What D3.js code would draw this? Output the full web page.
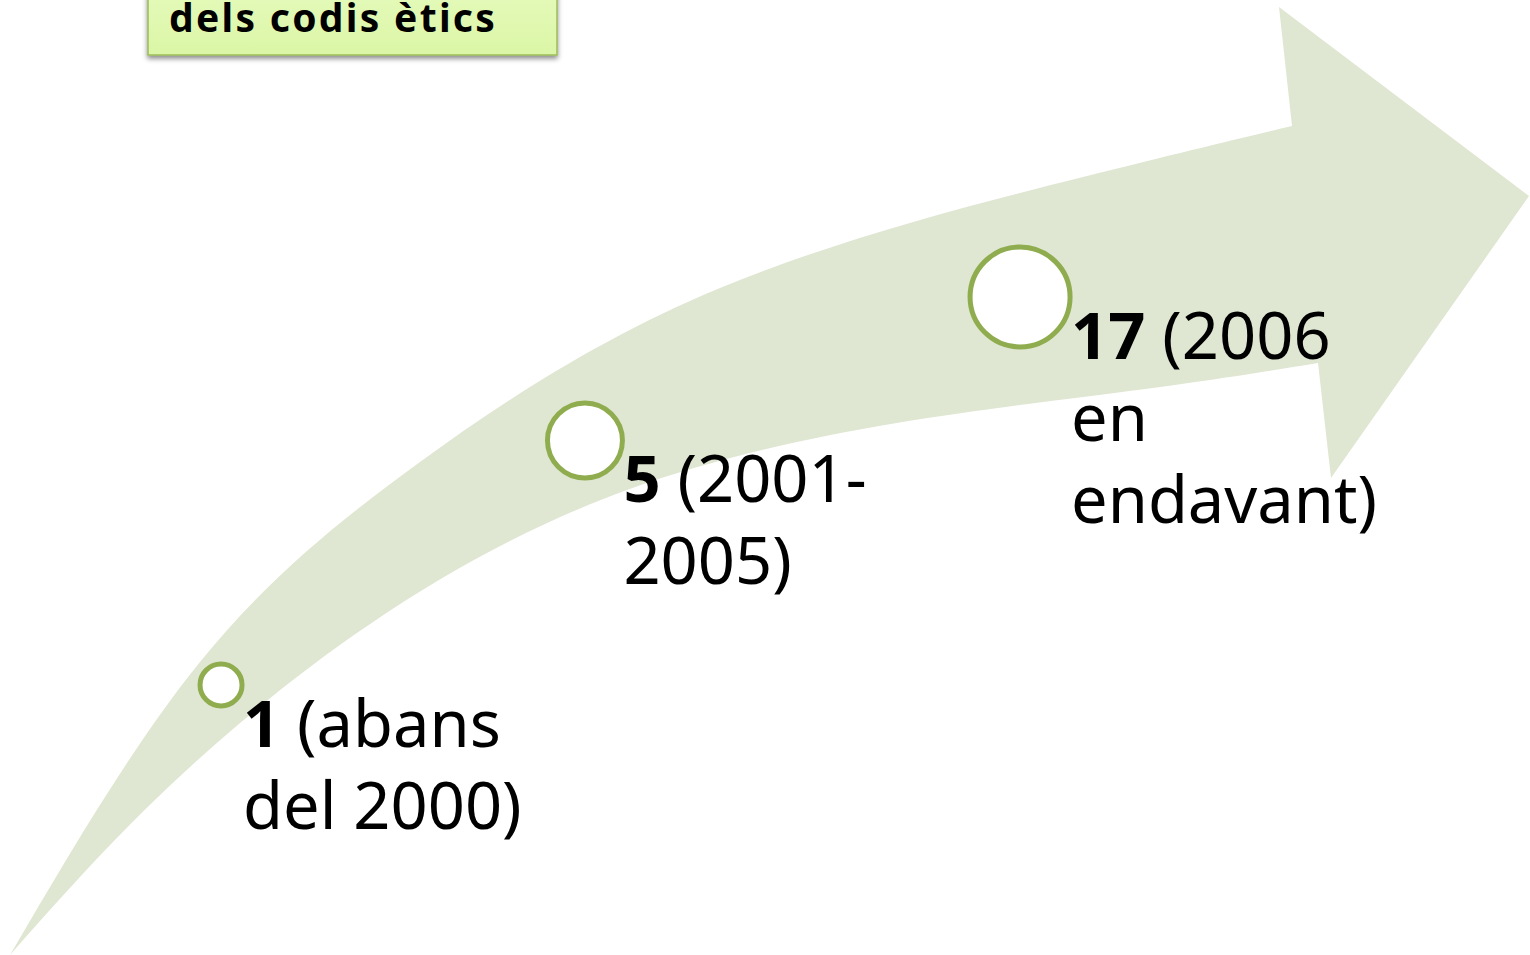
<!DOCTYPE html>
<html>
<head>
<meta charset="utf-8">
<script src="https://cdn.jsdelivr.net/npm/d3@7"></script>
<style>
  body { margin: 0; background: #fff; }
  svg { display: block; }
</style>
</head>
<body>
<svg id="chart"></svg>
<script>
// data
const counts = [1, 5, 17];
const periodLines = [["(abans", "del 2000)"], ["(2001-", "2005)"], ["(2006", "en", "endavant)"]];
const titleText = "dels codis ètics";

// arrow outline (shape only)
const upperEdge = [[10,955],[200,662],[420,462],[720,288],[1083,177],[1292,126]];
const lowerEdge = [[1318,363],[1083,397],[627,490],[240,723],[10,955]];
const headPts = [[1279,7],[1529,196],[1331,478]];
const spine = [[10,955],[221,685],[400,545],[586,440],[800,360],[1020,297],[1305,245]];

var width = 1530;
var height = 955;

const svg = d3.select("#chart")
    .attr("width", width)
    .attr("height", height)
    .attr("viewBox", [0, 0, width, height]);

const defs = svg.append("defs");
const grad = defs.append("linearGradient")
    .attr("id", "boxFill")
    .attr("x1", 0).attr("y1", 0).attr("x2", 0).attr("y2", 1);
grad.append("stop").attr("offset", "0%").attr("stop-color", "#ecfdca");
grad.append("stop").attr("offset", "100%").attr("stop-color", "#dbf6a6");

defs.append("filter")
    .attr("id", "shadow")
    .attr("x", "-10%").attr("y", "-10%").attr("width", "120%").attr("height", "140%")
  .append("feDropShadow")
    .attr("dx", 0).attr("dy", 3)
    .attr("stdDeviation", 2.5)
    .attr("flood-color", "#000")
    .attr("flood-opacity", 0.45);

const edge = d3.line().curve(d3.curveNatural);
const line = d3.line().curve(d3.curveCatmullRom.alpha(0.5));

// the big curved arrow
const upperD = edge(upperEdge);
const lowerD = edge(lowerEdge).replace(/^M/, "L");
const headD = headPts.map(p => "L" + p[0] + "," + p[1]).join("");

svg.append("path")
    .attr("class", "arrow")
    .attr("d", upperD + headD + lowerD + "Z")
    .attr("fill", "#dfe7d2");

// hidden centre line used to place the milestones
const spinePath = svg.append("path")
    .attr("d", line(spine))
    .attr("fill", "none")
    .attr("stroke", "none");
const spineNode = spinePath.node();

// milestones sit a little closer together near the tail
const along = d3.scalePow().exponent(1.03).domain([0, counts.length - 1]).range([343, 1242]);
const radius = d3.scaleLog().domain(d3.extent(counts)).range([21, 50]);

const nodes = counts.map((v, i) => {
  const p = spineNode.getPointAtLength(along(i));
  return {value: v, lines: periodLines[i], x: p.x, y: p.y, r: radius(v)};
});

svg.append("g")
    .attr("class", "milestones")
  .selectAll("circle")
  .data(nodes)
  .join("circle")
    .attr("cx", d => d.x)
    .attr("cy", d => d.y)
    .attr("r", d => d.r)
    .attr("fill", "#fff")
    .attr("stroke", "#8fad4f")
    .attr("stroke-width", 5);

const labels = svg.append("g")
    .attr("class", "labels")
    .style("font-family", "'Noto Sans', 'Open Sans', sans-serif")
    .style("font-size", "65px")
    .attr("fill", "#000")
  .selectAll("text")
  .data(nodes)
  .join("text")
    .attr("x", d => d.x + d.r + 1)
    .attr("y", d => d.y + 62);

labels.each(function(d) {
  const t = d3.select(this);
  d.lines.forEach((ln, j) => {
    if (j === 0) {
      t.append("tspan").attr("font-weight", "bold").text(d.value);
      t.append("tspan").text(" " + ln);
    } else {
      t.append("tspan")
          .attr("x", d.x + d.r + 1)
          .attr("dy", 82)
          .text(ln);
    }
  });
});

// title box (top part runs off the page)
const title = svg.append("g").attr("class", "title");
title.append("rect")
    .attr("x", 148)
    .attr("y", -60)
    .attr("width", 409)
    .attr("height", 115)
    .attr("fill", "url(#boxFill)")
    .attr("stroke", "#9bbb59")
    .attr("stroke-width", 1.5)
    .attr("filter", "url(#shadow)");
title.append("text")
    .attr("x", 169)
    .attr("y", 32)
    .style("font-family", "'Noto Sans', 'Open Sans', sans-serif")
    .style("font-size", "39px")
    .style("font-weight", "bold")
    .style("letter-spacing", "2.3px")
    .attr("fill", "#000")
    .text(titleText);
</script>
</body>
</html>
